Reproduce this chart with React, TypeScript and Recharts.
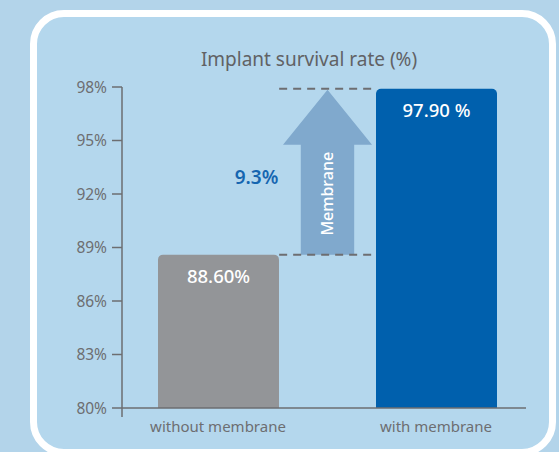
import React from 'react';
import { BarChart, Bar, XAxis, YAxis, LabelList, ReferenceLine, ReferenceArea, Cell } from 'recharts';

const categories = ['without membrane', 'with membrane'];
const survival = [88.6, 97.9];
const valueLabels = ['88.60%', '97.90 %'];
const yTicks = [80, 83, 86, 89, 92, 95, 98];

const barColors = ['#939598', '#0060ad'];
const textGray = '#6d6e71';
const font = '"Noto Sans", "Open Sans", sans-serif';

const data = categories.map((name, i) => ({ name, value: survival[i], label: valueLabels[i] }));
const gain = (survival[1] - survival[0]).toFixed(1);

// arrow drawn inside the area between the two bar tops
const MembraneArrow = (props: any) => {
  const { x, y, width, height } = props;
  if (width == null || height == null) return null;
  const cx = x + width / 2;
  const headH = 55;
  const shaftHalf = width * 0.3;
  const top = y + 1;
  const pts = [
    [cx, top],
    [x + width, top + headH],
    [cx + shaftHalf, top + headH],
    [cx + shaftHalf, y + height],
    [cx - shaftHalf, y + height],
    [cx - shaftHalf, top + headH],
    [x, top + headH],
  ]
    .map((p) => p.join(','))
    .join(' ');
  const ty = top + headH + (y + height - top - headH) / 2 - 6;
  return (
    <g>
      <polygon points={pts} fill="#80a9cd" />
      <text
        x={cx}
        y={ty}
        transform={`rotate(-90 ${cx} ${ty})`}
        textAnchor="middle"
        dominantBaseline="central"
        fill="#ffffff"
        fontSize={16}
        fontWeight={500}
        fontFamily={font}
      >
        Membrane
      </text>
      <text
        x={cx - 71}
        y={y + height / 2 + 5}
        textAnchor="middle"
        dominantBaseline="central"
        fill="#1565b0"
        fontSize={19}
        fontWeight={600}
        fontFamily={font}
      >
        {gain}%
      </text>
    </g>
  );
};

export default function App() {
  return (
    <div style={{ position: 'fixed', left: 0, top: 0, width: 559, height: 452, background: '#b3d4ea', overflow: 'hidden', fontFamily: font }}>
      <div
        style={{
          position: 'absolute',
          left: 30,
          top: 10,
          width: 526,
          height: 446,
          boxSizing: 'border-box',
          border: '7px solid #ffffff',
          borderRadius: 34,
          background: '#b4d7ed',
        }}
      />
      <div style={{ position: 'absolute', left: 0, top: 0 }}>
        <BarChart width={559} height={452} data={data} margin={{ top: 87, right: 33, bottom: 14, left: 62 }}>
          <text x={309} y={59} textAnchor="middle" dominantBaseline="central" fill="#616265" fontSize={19} fontFamily={font}>
            Implant survival rate (%)
          </text>
          <XAxis
            dataKey="name"
            padding={{ left: -13, right: -19 }}
            axisLine={{ stroke: textGray, strokeWidth: 1.5 }}
            tickLine={false}
            tickMargin={7}
            height={30}
            tick={{ fill: textGray, fontSize: 15, fontFamily: font }}
          />
          <XAxis xAxisId="num" type="number" domain={[0, 1]} hide />
          <YAxis
            domain={[80, 98]}
            ticks={yTicks}
            width={60}
            tickFormatter={(v) => `${v}%`}
            axisLine={{ stroke: textGray, strokeWidth: 1.5 }}
            tickLine={{ stroke: textGray, strokeWidth: 1.5 }}
            tickSize={10}
            tickMargin={5}
            tick={{ fill: textGray, fontSize: 15.5, fontFamily: font }}
          />
          <ReferenceLine
            xAxisId="num"
            segment={[{ x: 0, y: 80 }, { x: 0, y: 79.5 }]}
            stroke={textGray}
            strokeWidth={1.5}
            ifOverflow="visible"
          />
          <Bar dataKey="value" barSize={121} radius={[5, 5, 0, 0]} isAnimationActive={false}>
            {data.map((d, i) => (
              <Cell key={d.name} fill={barColors[i]} />
            ))}
            <LabelList dataKey="label" position="insideTop" offset={15} fill="#ffffff" fontSize={18.5} fontWeight={500} fontFamily={font} />
          </Bar>
          <ReferenceLine
            xAxisId="num"
            segment={[{ x: 0.389, y: survival[1] }, { x: 0.626, y: survival[1] }]}
            stroke={textGray}
            strokeWidth={2}
            strokeDasharray="8 6"
          />
          <ReferenceLine
            xAxisId="num"
            segment={[{ x: 0.389, y: survival[0] }, { x: 0.626, y: survival[0] }]}
            stroke={textGray}
            strokeWidth={2}
            strokeDasharray="8 6"
          />
          <ReferenceArea
            xAxisId="num"
            x1={0.3985}
            x2={0.6188}
            y1={survival[0]}
            y2={survival[1]}
            shape={<MembraneArrow />}
          />
        </BarChart>
      </div>
    </div>
  );
}
